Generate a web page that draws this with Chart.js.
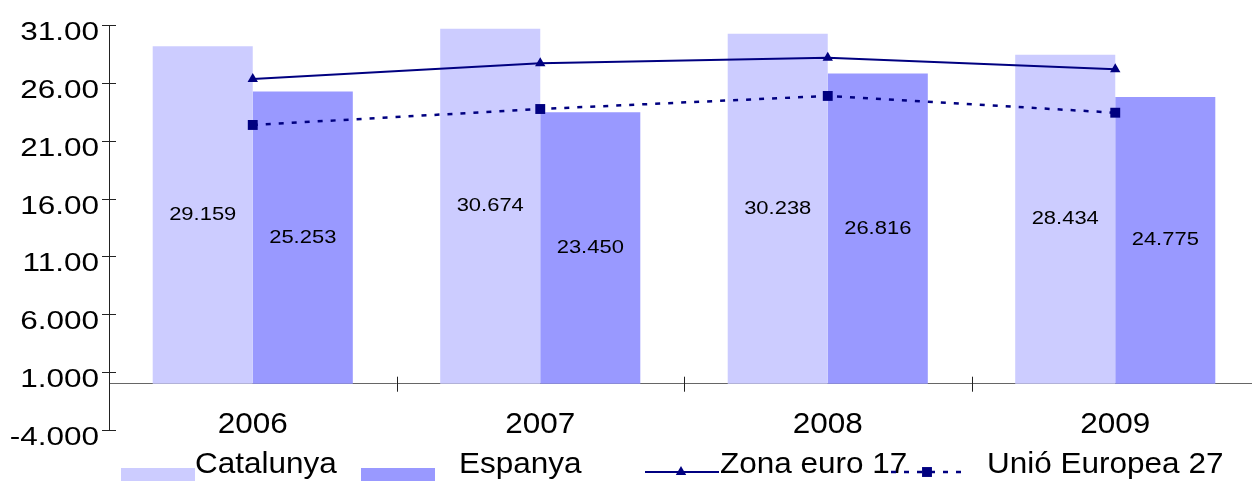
<!DOCTYPE html>
<html>
<head>
<meta charset="utf-8">
<script src="https://cdn.jsdelivr.net/npm/chart.js@4/dist/chart.umd.min.js"></script>
<style>
  html, body { margin: 0; padding: 0; background: #fff; overflow: hidden; }
</style>
</head>
<body>
<!-- the plot runs a few pixels past the right edge of the window in the original -->
<canvas id="chart" width="1266" height="481"></canvas>
<script>
const years = ['2006', '2007', '2008', '2009'];
const catalunya = [29.159, 30.674, 30.238, 28.434];
const espanya = [25.253, 23.450, 26.816, 24.775];
const zonaEuro17 = [26.33, 27.69, 28.18, 27.17];
const unioEuropea27 = [22.36, 23.74, 24.87, 23.42];
const yTicks = [-4, 1, 6, 11, 16, 21, 26, 31];

const FONT = '"Liberation Sans", Arial, sans-serif';
const NAVY = '#000080';

// legend placement (swatch start, text start)
const legendSwatchX = [121, 361, 645, 891];
const legendTextX = [195, 459, 720, 987];

// text in the original is drawn a bit wider than normal, so stretch it
function drawText(ctx, text, x, y, size, stretch, align, baseline) {
    ctx.save();
    ctx.font = size + 'px ' + FONT;
    ctx.fillStyle = '#000';
    ctx.textAlign = align;
    ctx.textBaseline = baseline;
    ctx.translate(x, y);
    ctx.scale(stretch, 1);
    ctx.fillText(text, 0, 0);
    ctx.restore();
}

const axisDecor = {
    id: 'axisDecor',
    afterDatasetsDraw(chart) {
        const ctx = chart.ctx;
        const xs = chart.scales.x;
        const ys = chart.scales.y;
        const left = chart.chartArea.left;
        const zeroY = ys.getPixelForValue(0);

        ctx.save();
        ctx.strokeStyle = '#222';
        ctx.lineWidth = 1;

        // y ticks cross the axis line
        yTicks.forEach(v => {
            const y = Math.round(ys.getPixelForValue(v)) + 0.5;
            ctx.beginPath();
            ctx.moveTo(left - 7, y);
            ctx.lineTo(left + 7, y);
            ctx.stroke();
            drawText(ctx, v.toPrecision(4), left - 10, y + 14, 25, 1.26, 'right', 'alphabetic');
        });

        // x ticks sit on the category boundaries
        const half = (xs.getPixelForValue(1) - xs.getPixelForValue(0)) / 2;
        for (let i = 0; i <= years.length; i++) {
            const x = Math.round(xs.getPixelForValue(i) - half) + 0.5;
            ctx.beginPath();
            ctx.moveTo(x, zeroY - 7);
            ctx.lineTo(x, zeroY + 8);
            ctx.stroke();
        }
        years.forEach((yr, i) => {
            drawText(ctx, yr, xs.getPixelForValue(i), zeroY + 49, 30, 1.05, 'center', 'alphabetic');
        });

        // value labels in the middle of the bars
        [0, 1].forEach(di => {
            const meta = chart.getDatasetMeta(di);
            meta.data.forEach((bar, i) => {
                const val = chart.data.datasets[di].data[i].toFixed(3);
                drawText(ctx, val, bar.x, (bar.y + bar.base) / 2, 18, 1.22, 'center', 'middle');
            });
        });
        ctx.restore();
    },
    afterDraw(chart) {
        const ctx = chart.ctx;
        const sets = chart.data.datasets;
        ctx.save();
        sets.forEach((ds, i) => {
            const sx = legendSwatchX[i];
            if (ds.type === 'line') {
                ctx.strokeStyle = ds.borderColor;
                ctx.fillStyle = ds.backgroundColor;
                ctx.lineWidth = ds.borderWidth;
                ctx.setLineDash(ds.borderDash || []);
                ctx.beginPath();
                ctx.moveTo(sx, 472);
                ctx.lineTo(sx + 74, 472);
                ctx.stroke();
                ctx.setLineDash([]);
                Chart.helpers.drawPoint(ctx, {
                    pointStyle: ds.pointStyle,
                    radius: ds.pointRadius,
                    rotation: 0,
                    borderWidth: 0
                }, sx + 36, 472);
            } else {
                ctx.fillStyle = ds.backgroundColor;
                ctx.fillRect(sx, 468, 74, 14);
            }
            drawText(ctx, ds.label, legendTextX[i], 473, 30, 1.05, 'left', 'alphabetic');
        });
        ctx.restore();
    }
};

new Chart(document.getElementById('chart').getContext('2d'), {
    type: 'bar',
    data: {
        labels: years,
        datasets: [
            {
                label: 'Catalunya',
                data: catalunya,
                backgroundColor: '#CCCCFF',
                order: 1
            },
            {
                label: 'Espanya',
                data: espanya,
                backgroundColor: '#9999FF',
                order: 1
            },
            {
                type: 'line',
                label: 'Zona euro 17',
                data: zonaEuro17,
                borderColor: NAVY,
                backgroundColor: NAVY,
                borderWidth: 2,
                pointStyle: 'triangle',
                pointRadius: 6,
                pointBorderWidth: 0,
                tension: 0,
                order: 0
            },
            {
                type: 'line',
                label: 'Unió Europea 27',
                data: unioEuropea27,
                borderColor: NAVY,
                backgroundColor: NAVY,
                borderWidth: 2.5,
                borderDash: [5, 8],
                pointStyle: 'rect',
                pointRadius: 7,
                pointBorderWidth: 0,
                tension: 0,
                order: 0
            }
        ]
    },
    options: {
        responsive: false,
        animation: false,
        layout: {
            padding: { top: 25, bottom: 51, left: 0, right: 0 }
        },
        datasets: {
            bar: { barPercentage: 1, categoryPercentage: 0.696 }
        },
        plugins: {
            legend: { display: false },
            tooltip: { enabled: false }
        },
        scales: {
            x: {
                position: { y: 0 },
                grid: { display: false },
                border: { display: true, color: '#666', width: 1 },
                ticks: { display: false }
            },
            y: {
                min: -4,
                max: 31,
                grid: { display: false },
                border: { display: true, color: '#222', width: 1 },
                ticks: { display: false, stepSize: 5 },
                afterFit: scale => { scale.width = 109; }
            }
        }
    },
    plugins: [axisDecor]
});
</script>
</body>
</html>
